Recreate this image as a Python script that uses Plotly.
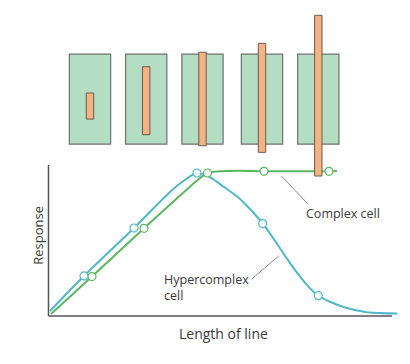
import plotly.graph_objects as go

# ---------------- data ----------------
# Hypercomplex cell response curve (x = length of line, y = response)
hyper_x = [0.029, 1.020, 2.478, 3.528, 3.936, 4.315, 4.694, 5.102, 5.569, 5.889, 6.230, 6.539,
           6.930, 7.230, 7.609, 7.851, 8.192, 8.630, 9.271, 10.146]
hyper_y = [0.035, 0.278, 0.611, 0.861, 0.941, 0.993, 0.962, 0.896, 0.813, 0.736, 0.642, 0.540,
           0.401, 0.301, 0.192, 0.141, 0.099, 0.059, 0.026, 0.017]
hyper_marker_idx = [1, 2, 5, 10, 15]

# Complex cell response curve
complex_x = [0.058, 1.254, 2.770, 3.936, 4.315, 4.621, 4.985, 5.569, 6.268, 7.318, 8.163, 8.397]
complex_y = [0.014, 0.274, 0.609, 0.861, 0.941, 0.993, 1.005, 1.009, 1.005, 1.005, 1.005, 1.007]
complex_marker_idx = [1, 2, 5, 8, 10]

# stimulus line lengths (in response-axis units) for the five receptive-field panels
stim_lengths = [0.181, 0.472, 0.649, 0.757, 1.116]
stim_centers_y = [1.458, 1.495, 1.507, 1.515, 1.530]

labels = {"x": "Length of line", "y": "Response",
          "complex": "Complex cell", "hyper": "Hypercomplex<br>cell"}

# ---------------- layout constants ----------------
W, H = 410, 364
X_RANGE = [-1.4286, 10.5248]
Y_RANGE = [-0.3333, 2.1944]
panel_x = [1.195, 2.834, 4.475, 6.210, 7.851]
panel_w = 1.204
panel_y0, panel_y1 = 1.194, 1.819
bar_w = 0.216

BLUE = "#4fb7c8"
GREEN = "#5cb660"
RECT_FILL = "#b4dec3"
RECT_LINE = "#707070"
ORANGE = "#f3b383"
ORANGE_LINE = "#6a5a50"
AXIS = "#555555"
TEXT = "#3a3a3a"
FONT = "Open Sans"

fig = go.Figure()

fig.add_trace(go.Scatter(x=complex_x, y=complex_y, mode="lines",
                         line=dict(color=GREEN, width=2, shape="spline", smoothing=0.9),
                         hoverinfo="skip"))
fig.add_trace(go.Scatter(x=hyper_x, y=hyper_y, mode="lines",
                         line=dict(color=BLUE, width=2, shape="spline", smoothing=0.9),
                         hoverinfo="skip"))
fig.add_trace(go.Scatter(x=[complex_x[i] for i in complex_marker_idx],
                         y=[complex_y[i] for i in complex_marker_idx], mode="markers",
                         marker=dict(size=8, color="white", line=dict(color=GREEN, width=1.2))))
fig.add_trace(go.Scatter(x=[hyper_x[i] for i in hyper_marker_idx],
                         y=[hyper_y[i] for i in hyper_marker_idx], mode="markers",
                         marker=dict(size=8, color="white", line=dict(color=BLUE, width=1.2))))

shapes = []
# axis lines
shapes.append(dict(type="line", xref="x", yref="y", x0=-0.015, x1=10.0, y0=0, y1=0,
                   line=dict(color=AXIS, width=1.5)))
shapes.append(dict(type="line", xref="x", yref="y", x0=-0.015, x1=-0.015, y0=0, y1=1.049,
                   line=dict(color=AXIS, width=1.5)))
# stimulus panels
for cx in panel_x:
    shapes.append(dict(type="rect", xref="x", yref="y", layer="above",
                       x0=cx - panel_w / 2, x1=cx + panel_w / 2, y0=panel_y0, y1=panel_y1,
                       fillcolor=RECT_FILL, line=dict(color=RECT_LINE, width=1.2)))
for cx, ln, cy in zip(panel_x, stim_lengths, stim_centers_y):
    shapes.append(dict(type="rect", xref="x", yref="y", layer="above",
                       x0=cx - bar_w / 2, x1=cx + bar_w / 2, y0=cy - ln / 2, y1=cy + ln / 2,
                       fillcolor=ORANGE, line=dict(color=ORANGE_LINE, width=1)))
# leader lines
shapes.append(dict(type="line", xref="x", yref="y", x0=6.78, y0=0.972, x1=7.53, y1=0.782,
                   line=dict(color="#8a8a8a", width=1)))
shapes.append(dict(type="line", xref="x", yref="y", x0=5.91, y0=0.257, x1=6.70, y1=0.417,
                   line=dict(color="#8a8a8a", width=1)))

annotations = [
    dict(x=5.09, y=-0.118, xref="x", yref="y",
         text=labels["x"], showarrow=False, font=dict(family=FONT, size=14, color=TEXT),
         xanchor="center", yanchor="middle"),
    dict(x=-0.31, y=0.56, xref="x", yref="y", text=labels["y"], textangle=-90,
         showarrow=False, font=dict(family=FONT, size=13, color=TEXT),
         xanchor="center", yanchor="middle"),
    dict(x=7.44, y=0.711, xref="x", yref="y", text=labels["complex"], showarrow=False,
         font=dict(family=FONT, size=12.5, color=TEXT), xanchor="left", yanchor="middle"),
    dict(x=3.30, y=0.195, xref="x", yref="y", text=labels["hyper"], showarrow=False,
         align="left", font=dict(family=FONT, size=12.5, color=TEXT),
         xanchor="left", yanchor="middle"),
]

fig.update_layout(
    width=W, height=H, margin=dict(l=0, r=0, t=0, b=0),
    paper_bgcolor="white", plot_bgcolor="white", showlegend=False,
    xaxis=dict(range=X_RANGE, visible=False, fixedrange=True),
    yaxis=dict(range=Y_RANGE, visible=False, fixedrange=True),
    shapes=shapes, annotations=annotations,
)

fig.write_html("out.html")
